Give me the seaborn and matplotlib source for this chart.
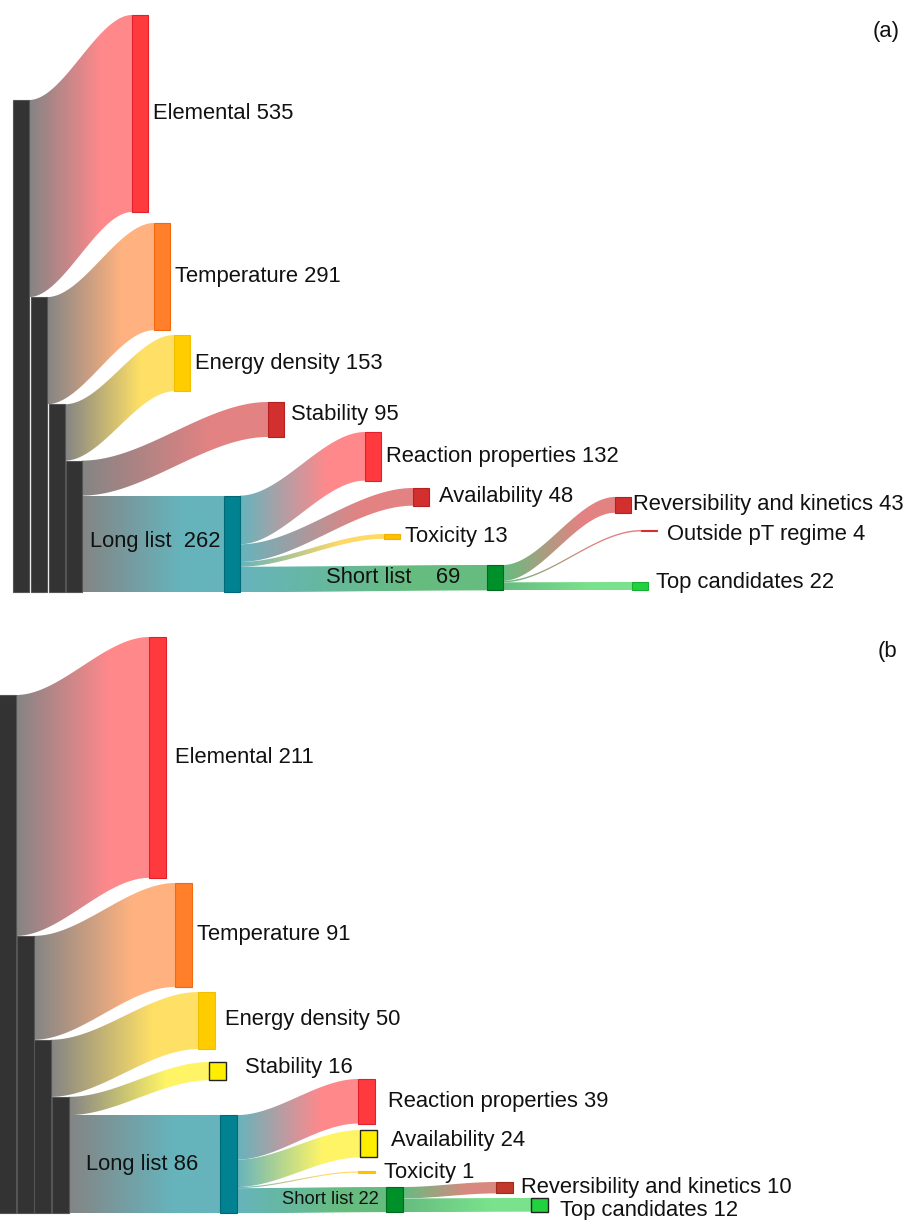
import numpy as np
import matplotlib
matplotlib.use("Agg")
import matplotlib.pyplot as plt
import seaborn as sns
from matplotlib.patches import Polygon
from matplotlib.colors import to_rgb

sns.set_theme(style="white")
plt.rcParams["font.family"] = ["Liberation Sans", "DejaVu Sans"]

# ---------------- DATA ----------------
# Panel (a)
a_source = ["Total", "Total", "After elemental", "After elemental",
            "After temperature", "After temperature",
            "After energy density", "After energy density",
            "Long list", "Long list", "Long list", "Long list",
            "Short list", "Short list", "Short list"]
a_target = ["Elemental", "After elemental", "Temperature", "After temperature",
            "Energy density", "After energy density",
            "Stability", "Long list",
            "Reaction properties", "Availability", "Toxicity", "Short list",
            "Reversibility and kinetics", "Outside pT regime", "Top candidates"]
a_value = [535, 801, 291, 510, 153, 357, 95, 262, 132, 48, 13, 69, 43, 4, 22]

# Panel (b)
b_source = ["Total", "Total", "After elemental", "After elemental",
            "After temperature", "After temperature",
            "After energy density", "After energy density",
            "Long list", "Long list", "Long list", "Long list",
            "Short list", "Short list"]
b_target = ["Elemental", "After elemental", "Temperature", "After temperature",
            "Energy density", "After energy density",
            "Stability", "Long list",
            "Reaction properties", "Availability", "Toxicity", "Short list",
            "Reversibility and kinetics", "Top candidates"]
b_value = [211, 243, 91, 152, 50, 102, 16, 86, 39, 24, 1, 22, 10, 12]

HIDDEN = {"Total", "After elemental", "After temperature", "After energy density"}

# ---------------- LAYOUT / STYLE ----------------
BLACK = "#333333"
RED = "#FF3A3F"
DRED = "#D22F2F"
ORANGE = "#FF7F2A"
GOLD = "#FFCC00"
TEAL = "#008290"
GREEN = "#00902A"
LGREEN = "#22D040"
YEL = "#FFEE00"
TOX = "#FFC000"

# node: (x_left_px, top in value units or None = follows its incoming link, face, edge)
layout_a = {
    "Total": (13, 271.5, BLACK, "#555555"),
    "After elemental": (31, None, BLACK, "#555555"),
    "After temperature": (49, None, BLACK, "#555555"),
    "After energy density": (66, None, BLACK, "#555555"),
    "Elemental": (132, 40.7, RED, "#E0202A"),
    "Temperature": (154, 605.4, ORANGE, "#F06A10"),
    "Energy density": (174, 909.4, GOLD, "#F0C000"),
    "Stability": (268, 1091.3, DRED, "#B82020"),
    "Long list": (224, None, TEAL, "#006A78"),
    "Reaction properties": (365, 1172.8, RED, "#E0202A"),
    "Availability": (413, 1324.8, DRED, "#B82020"),
    "Toxicity": (384, 1449.7, TOX, "#F0B000"),
    "Short list": (487, 1533.8, GREEN, "#006A1E"),
    "Reversibility and kinetics": (615, 1349.2, DRED, "#B82020"),
    "Outside pT regime": (641, 1438.8, DRED, DRED),
    "Top candidates": (632, 1580.0, LGREEN, "#18B030"),
}
layout_b = {
    "Total": (-1, 70.1, BLACK, "#555555"),
    "After elemental": (17, None, BLACK, "#555555"),
    "After temperature": (34, None, BLACK, "#555555"),
    "After energy density": (52, None, BLACK, "#555555"),
    "Elemental": (149, 19.3, RED, "#E0202A"),
    "Temperature": (175, 234.8, ORANGE, "#F06A10"),
    "Energy density": (198, 330.3, GOLD, "#F0C000"),
    "Stability": (209, 391.6, YEL, "#222222"),
    "Long list": (220, None, TEAL, "#006A78"),
    "Reaction properties": (358, 406.5, RED, "#E0202A"),
    "Availability": (360, 451.2, YEL, "#222222"),
    "Toxicity": (358, 487.5, TOX, TOX),
    "Short list": (386, 501.1, GREEN, "#006A1E"),
    "Reversibility and kinetics": (496, 496.7, "#C0392B", "#A02A20"),
    "Top candidates": (531, 510.7, LGREEN, "#222222"),
}

# label offsets (dx px right of node, dy px)
lab_a = {"Elemental": (5, 0), "Temperature": (5, 0), "Energy density": (5, 0),
         "Stability": (7, -5), "Reaction properties": (5, 0), "Availability": (10, 0),
         "Toxicity": (5, 0), "Reversibility and kinetics": (2, 0),
         "Outside pT regime": (10, 4), "Top candidates": (8, -4)}
lab_b = {"Elemental": (9, 0), "Temperature": (5, 0), "Energy density": (10, -1),
         "Stability": (19, -4), "Reaction properties": (13, 0), "Availability": (14, -3),
         "Toxicity": (9, 0), "Reversibility and kinetics": (8, 0),
         "Top candidates": (12, 6)}

FS = 15.8
ALPHA = 0.6
RAMP = 0.7   # fraction of link length over which the colour blends


def opaque(c, a=ALPHA):
    r = np.array(to_rgb(c))
    return tuple(r * a + (1 - a) * 1.0)


def draw_link(ax, x0, x1, ys0, ys1, yt0, yt1, c0, c1, n=200):
    xs = np.linspace(x0, x1, n + 1)
    u = (xs - x0) / (x1 - x0)
    s = 3 * u ** 2 - 2 * u ** 3
    top = ys0 + (yt0 - ys0) * s
    bot = ys1 + (yt1 - ys1) * s
    verts = np.vstack([np.c_[xs, top], np.c_[xs[::-1], bot[::-1]]])
    poly = Polygon(verts, closed=True, facecolor="none", edgecolor="none")
    ax.add_patch(poly)
    nb = int(256 * RAMP)
    ramp = sns.blend_palette([opaque(c0), opaque(c1)], n_colors=nb)
    cols = np.array(list(ramp) + [opaque(c1)] * (256 - nb))
    img = cols[None, :, :]
    ylo = min(top.min(), bot.min())
    yhi = max(top.max(), bot.max())
    im = ax.imshow(img, extent=[x0, x1, yhi, ylo], aspect="auto",
                   interpolation="bilinear", zorder=1)
    im.set_clip_path(poly)


def sankey(ax, sources, targets, values, layout, width):
    nodes = list(layout.keys())
    val = {}
    for n in nodes:
        vin = sum(v for t, v in zip(targets, values) if t == n)
        vout = sum(v for s_, v in zip(sources, values) if s_ == n)
        val[n] = max(vin, vout)
    top = {n: layout[n][1] for n in nodes}
    out_off = {n: 0.0 for n in nodes}
    in_off = {n: 0.0 for n in nodes}
    links = []
    for s_, t, v in zip(sources, targets, values):
        ys0 = top[s_] + out_off[s_]
        out_off[s_] += v
        if top[t] is None:
            top[t] = ys0
        yt0 = top[t] + in_off[t]
        in_off[t] += v
        links.append((s_, t, v, ys0, yt0))
    for s_, t, v, ys0, yt0 in links:
        if t in HIDDEN:
            continue
        x0 = layout[s_][0] + width
        x1 = layout[t][0]
        draw_link(ax, x0, x1, ys0, ys0 + v, yt0, yt0 + v, layout[s_][2], layout[t][2])
    for n in nodes:
        x, _, fc, ec = layout[n]
        lw = 1.0 if ec == "#222222" else 0.8
        ax.bar([x], [val[n]], bottom=[top[n]], width=width, align="edge",
               color=fc, edgecolor=ec, linewidth=lw, zorder=3)
    return val, top


def setup(ax, ymax):
    ax.set_xlim(0, 908)
    ax.set_ylim(ymax, 0)
    ax.axis("off")


fig = plt.figure(figsize=(9.08, 12.2), dpi=100)
fig.patch.set_facecolor("white")

# panel (a): pixel rows 0..610
ax_a = fig.add_axes([0, 1 - 610 / 1220, 1, 610 / 1220])
YA = 1656.0
sa = 610 / YA
va, ta = sankey(ax_a, a_source, a_target, a_value, layout_a, 16)
setup(ax_a, YA)
for n, (dx, dy) in lab_a.items():
    x = layout_a[n][0] + 16 + dx
    y = ta[n] + va[n] / 2 + dy / sa
    ax_a.text(x, y, f"{n} {va[n]}", fontsize=FS, ha="left", va="center",
              color="#111111", zorder=5)
ax_a.text(layout_a["Long list"][0] - 4, ta["Long list"] + va["Long list"] / 2 - 2 / sa,
          f"Long list  {va['Long list']}", fontsize=FS, ha="right", va="center",
          color="#111111", zorder=5)
ax_a.text(layout_a["Short list"][0] - 27, ta["Short list"] + va["Short list"] / 2,
          f"Short list    {va['Short list']}", fontsize=FS, ha="right", va="center",
          color="#111111", zorder=5)
ax_a.text(873, 32 / sa, "(a)", fontsize=FS, ha="left", va="center", color="#111111")

# panel (b): pixel rows 615..1220
ax_b = fig.add_axes([0, 0, 1, 605 / 1220])
YB = 530.0
sb = 605 / YB
vb, tb = sankey(ax_b, b_source, b_target, b_value, layout_b, 17)
setup(ax_b, YB)
for n, (dx, dy) in lab_b.items():
    x = layout_b[n][0] + 17 + dx
    y = tb[n] + vb[n] / 2 + dy / sb
    ax_b.text(x, y, f"{n} {vb[n]}", fontsize=FS, ha="left", va="center",
              color="#111111", zorder=5)
ax_b.text(layout_b["Long list"][0] - 22, tb["Long list"] + vb["Long list"] / 2,
          f"Long list {vb['Long list']}", fontsize=FS, ha="right", va="center",
          color="#111111", zorder=5)
ax_b.text(layout_b["Short list"][0] - 7, tb["Short list"] + vb["Short list"] / 2,
          f"Short list {vb['Short list']}", fontsize=13.2, ha="right", va="center",
          color="#111111", zorder=5)
ax_b.text(878, (651 - 615) / sb, "(b", fontsize=FS, ha="left", va="center", color="#111111")

fig.savefig("out.png", dpi=100, facecolor="white")
